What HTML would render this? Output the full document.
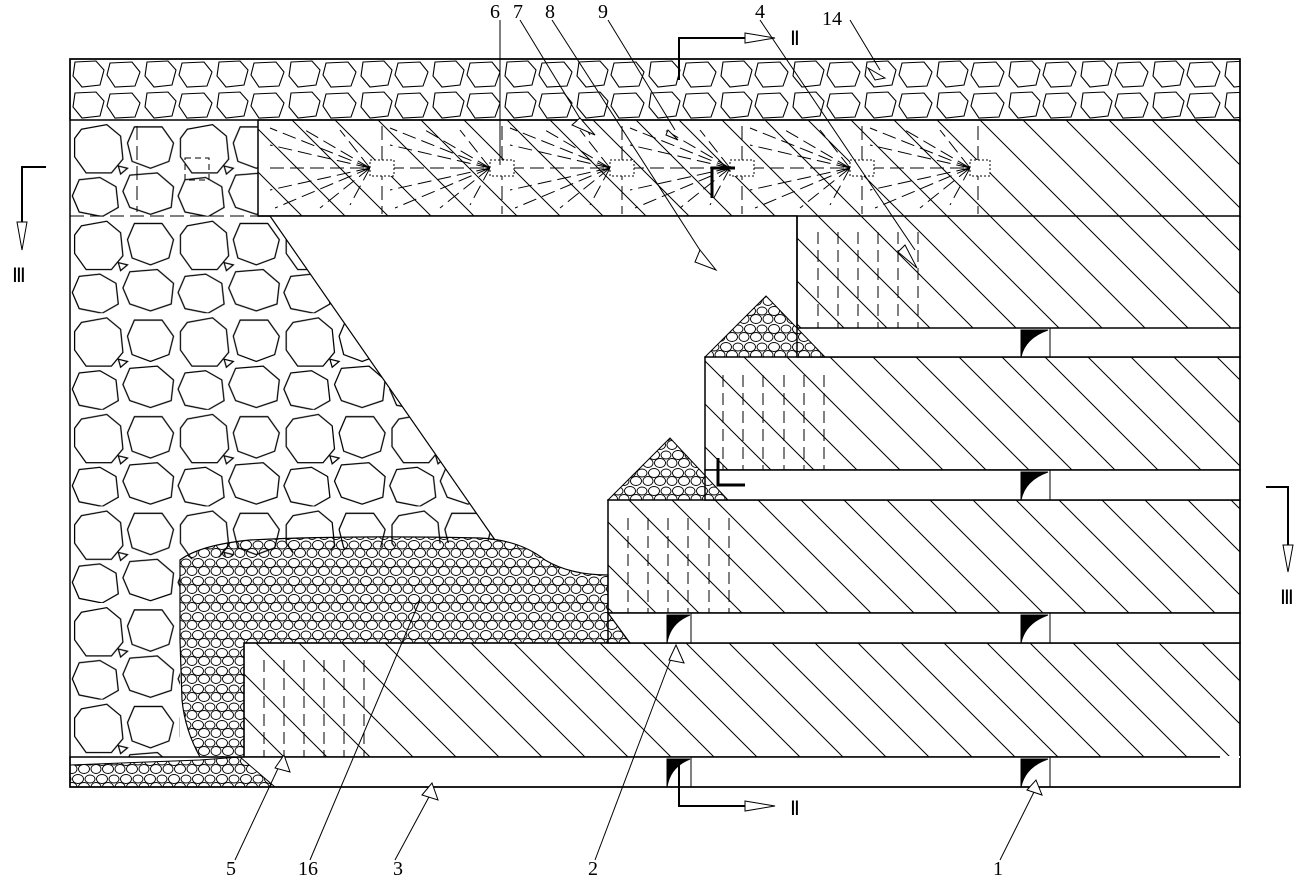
<!DOCTYPE html>
<html><head><style>body{margin:0;background:#fff}svg{display:block}text{font-family:"Liberation Serif",serif;font-size:20px}</style></head><body>
<svg width="1312" height="889" viewBox="0 0 1312 889" xmlns="http://www.w3.org/2000/svg">
<defs>
<pattern id="hatch" patternUnits="userSpaceOnUse" width="43" height="43">
<path d="M-10,-10 L53,53 M-53,-10 L10,53 M33,-10 L96,53" stroke="#000" stroke-width="1"/>
</pattern>
<pattern id="rock" patternUnits="userSpaceOnUse" width="92" height="84" patternTransform="translate(70,120) scale(1.15)">
<g fill="none" stroke="#000" stroke-width="1.1">
<path d="M10,8 L32,4 L44,14 L46,34 L36,46 L14,46 L4,32 L4,16Z"/>
<path d="M56,6 L80,6 L90,20 L86,36 L70,42 L54,36 L50,20Z"/>
<path d="M8,52 L26,50 L40,58 L42,76 L28,84 L8,80 L2,66Z"/>
<path d="M52,48 L76,46 L90,58 L88,76 L70,82 L52,76 L46,62Z"/>
<path d="M42,40 L50,42 L44,47Z"/>
</g></pattern>
<pattern id="cob" patternUnits="userSpaceOnUse" width="72" height="31" patternTransform="translate(70,59)">
<g fill="none" stroke="#000" stroke-width="1.1">
<path d="M5,3 L26,2 L34,11 L30,26 L12,28 L3,17Z"/>
<path d="M40,4 L62,3 L70,13 L65,27 L45,28 L37,16Z"/>
</g></pattern>
<pattern id="grav" patternUnits="userSpaceOnUse" width="24" height="18">
<g fill="none" stroke="#000" stroke-width="0.9">
<ellipse cx="6" cy="5" rx="5.5" ry="4.5"/><ellipse cx="18" cy="5" rx="5" ry="4"/>
<ellipse cx="12" cy="13" rx="5.5" ry="4.5"/><ellipse cx="0" cy="13" rx="5" ry="4.5"/><ellipse cx="24" cy="13" rx="5" ry="4.5"/>
</g></pattern>
</defs>
<rect x="0" y="0" width="1312" height="889" fill="#fff"/>
<rect x="70" y="59" width="1170" height="61" fill="url(#cob)" stroke="#000" stroke-width="1.5"/>
<path d="M70,120 L258,120 L258,216 L270,216 L495,540 L180,560 L180,763 L70,763Z" fill="url(#rock)"/>
<rect x="258" y="120" width="982" height="96" fill="url(#hatch)" stroke="#000" stroke-width="1.5"/>
<line x1="70" y1="120" x2="258" y2="120" stroke="#000" stroke-width="1" stroke-dasharray="14,6"/>
<line x1="70" y1="216" x2="258" y2="216" stroke="#000" stroke-width="1" stroke-dasharray="14,6"/>
<line x1="137" y1="126" x2="137" y2="212" stroke="#000" stroke-dasharray="14,6"/>
<rect x="185" y="158" width="24" height="22" fill="none" stroke="#000" stroke-dasharray="6,4"/>
<line x1="800" y1="216" x2="1240" y2="216" stroke="#000" stroke-dasharray="2,2"/>
<g stroke="#000" stroke-width="1" stroke-dasharray="14,6" fill="none">
<line x1="270" y1="168" x2="985" y2="168"/>
<line x1="382" y1="126" x2="382" y2="214"/><line x1="502" y1="126" x2="502" y2="214"/><line x1="622" y1="126" x2="622" y2="214"/><line x1="742" y1="126" x2="742" y2="214"/><line x1="862" y1="126" x2="862" y2="214"/><line x1="978" y1="126" x2="978" y2="214"/>
<g id="fan">
<path d="M370,168 L270,128 M370,168 L270,145 M370,168 L305,130 M370,168 L340,130 M370,168 L270,190 M370,168 L275,208 M370,168 L320,208 M370,168 L350,205"/>
</g>
<use href="#fan" x="120"/><use href="#fan" x="240"/><use href="#fan" x="360"/><use href="#fan" x="480"/><use href="#fan" x="600"/>
</g>
<g fill="#fff" stroke="#000" stroke-dasharray="2,2"><rect x="370" y="160" width="24" height="16"/><rect x="490" y="160" width="24" height="16"/><rect x="610" y="160" width="24" height="16"/><rect x="730" y="160" width="24" height="16"/><rect x="850" y="160" width="24" height="16"/><rect x="970" y="160" width="20" height="16"/></g>
<path d="M258,216 L797,216 L797,328 L705,357 L705,470 L608,500 L608,575 L560,575 L495,540 L270,216Z" fill="#fff"/>
<path d="M258,216 L797,216 L797,328" fill="none" stroke="#000" stroke-width="1.5"/>
<line x1="270" y1="216" x2="495" y2="540" stroke="#000" stroke-width="1.2"/>
<g stroke="#000" stroke-width="1.5">
<rect x="797" y="216" width="443" height="112" fill="url(#hatch)" stroke="none"/>
<line x1="797" y1="216" x2="797" y2="328"/><line x1="1240" y1="216" x2="1240" y2="328"/>
<rect x="705" y="357" width="535" height="113" fill="url(#hatch)"/>
<rect x="608" y="500" width="632" height="113" fill="url(#hatch)"/>
<rect x="244" y="643" width="996" height="114" fill="url(#hatch)"/>
<rect x="797" y="328" width="443" height="29" fill="#fff"/>
<rect x="705" y="470" width="535" height="30" fill="#fff"/>
<rect x="608" y="613" width="632" height="30" fill="#fff"/>
<rect x="70" y="757" width="1170" height="30" fill="#fff"/>
</g>
<g stroke="#000" stroke-dasharray="12,6" stroke-width="1">
<line x1="818" y1="232" x2="818" y2="328"/><line x1="838" y1="232" x2="838" y2="328"/><line x1="858" y1="232" x2="858" y2="328"/><line x1="878" y1="232" x2="878" y2="328"/><line x1="898" y1="232" x2="898" y2="328"/><line x1="918" y1="232" x2="918" y2="328"/>
<line x1="723" y1="375" x2="723" y2="470"/><line x1="743" y1="375" x2="743" y2="470"/><line x1="763" y1="375" x2="763" y2="470"/><line x1="784" y1="375" x2="784" y2="470"/><line x1="804" y1="375" x2="804" y2="470"/><line x1="824" y1="375" x2="824" y2="470"/>
<line x1="628" y1="518" x2="628" y2="613"/><line x1="648" y1="518" x2="648" y2="613"/><line x1="668" y1="518" x2="668" y2="613"/><line x1="688" y1="518" x2="688" y2="613"/><line x1="709" y1="518" x2="709" y2="613"/><line x1="729" y1="518" x2="729" y2="613"/>
<line x1="264" y1="660" x2="264" y2="757"/><line x1="284" y1="660" x2="284" y2="757"/><line x1="304" y1="660" x2="304" y2="757"/><line x1="324" y1="660" x2="324" y2="757"/><line x1="344" y1="660" x2="344" y2="757"/><line x1="364" y1="660" x2="364" y2="757"/>
</g>
<path d="M705,357 L766,296 L825,357Z" fill="url(#grav)" stroke="#000"/>
<path d="M608,500 L670,438 L728,500Z" fill="url(#grav)" stroke="#000"/>
<path d="M180,560 Q200,545 250,540 Q350,535 480,538 Q520,540 545,560 Q570,575 608,575 L608,613 L630,643 L244,643 L244,757 L200,757 Q185,730 182,700 L180,640Z" fill="url(#grav)" stroke="#000" stroke-width="1.2"/>
<path d="M70,765 L200,760 L240,757 L275,787 L70,787Z" fill="url(#grav)" stroke="#000"/>
<rect x="70" y="59" width="1170" height="728" fill="none" stroke="#000" stroke-width="1.5"/>
<line x1="1220" y1="757" x2="1240" y2="757" stroke="#fff" stroke-width="2"/>
<g fill="#000" stroke="#000">
<path d="M1021,330 L1048,330 Q1025,338 1021,357Z"/><line x1="1050" y1="328" x2="1050" y2="357"/>
<path d="M1021,472 L1048,472 Q1025,480 1021,500Z"/><line x1="1050" y1="470" x2="1050" y2="500"/>
<path d="M1021,615 L1048,615 Q1025,623 1021,643Z"/><line x1="1050" y1="613" x2="1050" y2="643"/>
<path d="M1021,759 L1048,759 Q1025,767 1021,787Z"/><line x1="1050" y1="757" x2="1050" y2="787"/>
<path d="M667,615 L690,615 Q670,623 667,643Z"/><line x1="691" y1="613" x2="691" y2="643"/>
<path d="M667,759 L690,759 Q670,767 667,787Z"/><line x1="691" y1="757" x2="691" y2="787"/>
</g>
<g stroke="#000" stroke-width="2" fill="none">
<path d="M679,80 L679,38 L745,38"/><path d="M679,765 L679,806 L745,806"/>
<path d="M46,167 L22,167 L22,222"/><path d="M1266,487 L1288,487 L1288,545"/>
<path d="M712,198 L712,168 L735,168" stroke-width="3"/><path d="M718,458 L718,485 L745,485" stroke-width="3"/>
</g>
<g fill="#fff" stroke="#000"><path d="M745,33 L775,38 L745,43Z"/><path d="M745,801 L775,806 L745,811Z"/><path d="M17,222 L22,250 L27,222Z"/><path d="M1283,545 L1288,572 L1293,545Z"/></g>
<text x="790" y="45">Ⅱ</text><text x="790" y="815">Ⅱ</text><text x="12" y="282">Ⅲ</text><text x="1280" y="604">Ⅲ</text>
<g stroke="#000" stroke-width="1" fill="#fff">
<path d="M500,20 L500,165"/><path d="M520,20 L590,135"/><path d="M552,20 L705,258"/><path d="M608,20 L675,130"/><path d="M760,20 L915,250"/><path d="M850,20 L880,70"/>
<path d="M1000,860 L1035,790"/><path d="M595,860 L675,648"/><path d="M395,860 L430,795"/><path d="M310,860 L420,600"/><path d="M235,860 L282,760"/>
<path d="M700,250 L716,270 L695,262Z"/><path d="M905,245 L917,268 L898,252Z"/><path d="M868,68 L885,78 L875,80Z"/><path d="M580,118 L595,135 L572,125Z"/><path d="M666,135 L678,140 L668,130Z"/>
<path d="M1027,790 L1036,780 L1042,795Z"/><path d="M669,660 L676,645 L684,663Z"/><path d="M422,795 L432,783 L438,800Z"/><path d="M275,768 L284,755 L290,772Z"/>
</g>
<text x="490" y="18">6</text><text x="513" y="18">7</text><text x="545" y="18">8</text><text x="598" y="18">9</text><text x="755" y="18">4</text><text x="822" y="25">14</text>
<text x="993" y="875">1</text><text x="588" y="875">2</text><text x="393" y="875">3</text><text x="298" y="875">16</text><text x="226" y="875">5</text>
</svg>
</body></html>
